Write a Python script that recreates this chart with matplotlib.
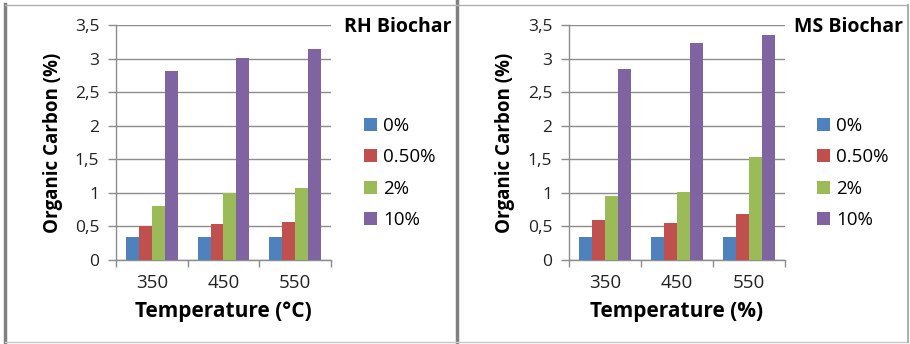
import numpy as np
import matplotlib
matplotlib.use('Agg')
from matplotlib import pyplot as plt
from matplotlib.lines import Line2D

plt.rcParams['font.family'] = ['Open Sans', 'DejaVu Sans']

temps = ['350', '450', '550']
series = ['0%', '0.50%', '2%', '10%']
colors = ['#4F81BD', '#C0504D', '#9BBB59', '#8064A2']

# RH biochar
rh_0 = [0.34, 0.34, 0.34]
rh_05 = [0.51, 0.53, 0.57]
rh_2 = [0.80, 1.00, 1.07]
rh_10 = [2.81, 3.01, 3.15]

# MS biochar
ms_0 = [0.34, 0.34, 0.34]
ms_05 = [0.59, 0.55, 0.69]
ms_2 = [0.96, 1.01, 1.53]
ms_10 = [2.85, 3.23, 3.35]

W, H = 910, 344
fig = plt.figure(figsize=(W / 100, H / 100), dpi=100)

def px(x0, y0, x1, y1):
    return [x0 / W, 1 - y1 / H, (x1 - x0) / W, (y1 - y0) / H]

def panel(rect, data, xlabel, title, title_right, leg_x):
    ax = fig.add_axes(rect)
    x = np.arange(len(temps))
    w = 0.18
    for i, (vals, c, s) in enumerate(zip(data, colors, series)):
        ax.bar(x + (i - 1.5) * w, vals, w, color=c, label=s, zorder=3)
    ax.set_xlim(-0.5, 2.5)
    ax.set_ylim(0, 3.5)
    ax.set_yticks(np.arange(0, 3.51, 0.5))
    ax.set_yticklabels(['0', '0,5', '1', '1,5', '2', '2,5', '3', '3,5'], fontsize=12.5, color='#222222')
    ax.yaxis.grid(True, color='#8c8c8c', linewidth=1.0, zorder=0)
    ax.set_xticks(x)
    ax.set_xticklabels(temps, fontsize=13.5, color='#222222')
    ax.set_xticks([-0.5, 0.5, 1.5, 2.5], minor=True)
    ax.tick_params(axis='x', which='major', length=0, pad=10)
    ax.tick_params(axis='x', which='minor', length=5, color='#8c8c8c', width=1.0)
    ax.tick_params(axis='y', length=6, color='#8c8c8c', width=1.0, pad=6)
    for sp in ['top', 'right']:
        ax.spines[sp].set_visible(False)
    for sp in ['left', 'bottom']:
        ax.spines[sp].set_color('#8c8c8c')
        ax.spines[sp].set_linewidth(1.0)
    ax.set_xlabel(xlabel, fontsize=15, fontweight='bold', va='center')
    ax.xaxis.set_label_coords(0.5, -0.218)
    ax.set_ylabel('Organic Carbon (%)', fontsize=13.5, fontweight='bold', va='center')
    ax.yaxis.set_label_coords(-0.295, 0.5)
    fig.text(title_right / W, 1 - 27 / H, title, ha='right', va='center', fontsize=14, fontweight='bold')
    fig.legend(*ax.get_legend_handles_labels(), loc='upper left', bbox_to_anchor=(leg_x / W, 1 - 117 / H),
               frameon=False, fontsize=13.5, handlelength=0.68, handleheight=0.68, handletextpad=0.35,
               labelspacing=0.72, borderpad=0, borderaxespad=0)
    return ax

panel(px(116, 25, 331, 260), [rh_0, rh_05, rh_2, rh_10], 'Temperature (°C)', 'RH Biochar', 451, 364)
panel(px(569, 25, 785, 260), [ms_0, ms_05, ms_2, ms_10], 'Temperature (%)', 'MS Biochar', 903, 817)

# panel frames
fig.add_artist(Line2D([5 / W, 5 / W], [0, 1 - 4 / H], color='#808080', linewidth=2.5))
fig.add_artist(Line2D([456.5 / W, 456.5 / W], [0, 1], color='#808080', linewidth=2.5))
fig.add_artist(Line2D([5 / W, 908 / W], [1 - 4.5 / H, 1 - 4.5 / H], color='#b0b0b0', linewidth=1))
fig.add_artist(Line2D([5 / W, 908 / W], [1 - 341.5 / H, 1 - 341.5 / H], color='#c8c8c8', linewidth=1))
fig.add_artist(Line2D([908 / W, 908 / W], [1 - 341.5 / H, 1 - 4.5 / H], color='#b0b0b0', linewidth=1.5))

plt.savefig('out.png', dpi=100)
